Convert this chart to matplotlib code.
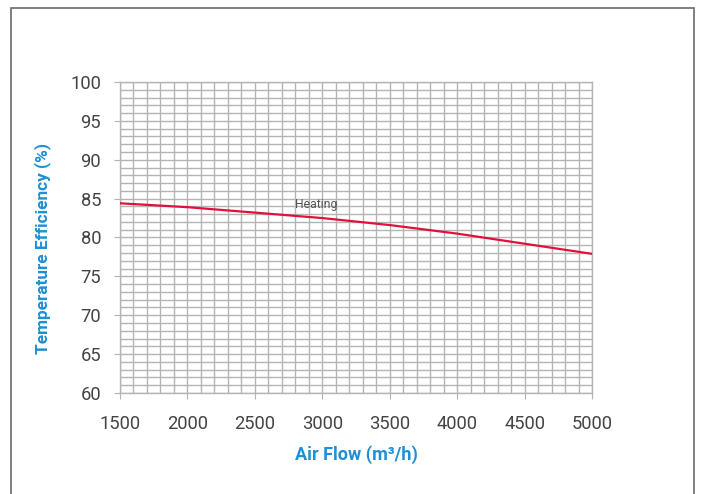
import matplotlib
matplotlib.use("Agg")
import matplotlib.pyplot as plt
from matplotlib.patches import Rectangle
from matplotlib.ticker import MultipleLocator

# ---- Data ----
air_flow = [1500, 2000, 2500, 3000, 3500, 4000, 4500, 5000]
heating_eff = [84.4, 83.9, 83.2, 82.5, 81.6, 80.5, 79.2, 77.9]
x_ticks = [1500, 2000, 2500, 3000, 3500, 4000, 4500, 5000]
y_ticks = [60, 65, 70, 75, 80, 85, 90, 95, 100]

blue = "#1e8fd5"
grey_text = "#444444"
grid_col = "#b4b4b4"

plt.rcParams['font.family'] = ['Roboto', 'DejaVu Sans']

fig = plt.figure(figsize=(7.04, 4.94), dpi=100)
ax = fig.add_axes([120 / 704, 1 - 393 / 494, 472 / 704, 311 / 494])

# outer frame of the picture (bottom edge runs off the image)
fig.patches.append(Rectangle((11 / 704, -0.05), 683 / 704, 1.05 - 8 / 494,
                             transform=fig.transFigure, fill=False,
                             edgecolor="#6a6a6a", linewidth=1.2))

ax.plot(air_flow, heating_eff, color="#e2103c", linewidth=1.6, zorder=3)
ax.text(2800, 84.2, "Heating", fontsize=8.8, color="#555555", va="center")

ax.set_xlim(1500, 5000)
ax.set_ylim(60, 100)
ax.set_xticks(x_ticks)
ax.set_yticks(y_ticks)
ax.xaxis.set_minor_locator(MultipleLocator(100))
ax.yaxis.set_minor_locator(MultipleLocator(1))
ax.grid(True, which="both", color=grid_col, linewidth=1.0)
ax.set_axisbelow(True)
ax.tick_params(which="major", length=4.5, color=grid_col, labelsize=13.2,
               labelcolor=grey_text)
ax.tick_params(axis="x", pad=11)
ax.tick_params(axis="y", pad=9)
ax.tick_params(which="minor", length=0)
for s in ax.spines.values():
    s.set_color(grid_col)
    s.set_linewidth(1.0)

ax.set_xlabel("Air Flow (m³/h)", color=blue, fontsize=13, fontweight="bold", labelpad=9)
# y label sits a little below the axes centre in the original
fig.text(43 / 704, 1 - 248 / 494, "Temperature Efficiency (%)", color=blue,
         fontsize=12.4, fontweight="bold", rotation=90, ha="center", va="center")

fig.savefig("out.png", dpi=100)
